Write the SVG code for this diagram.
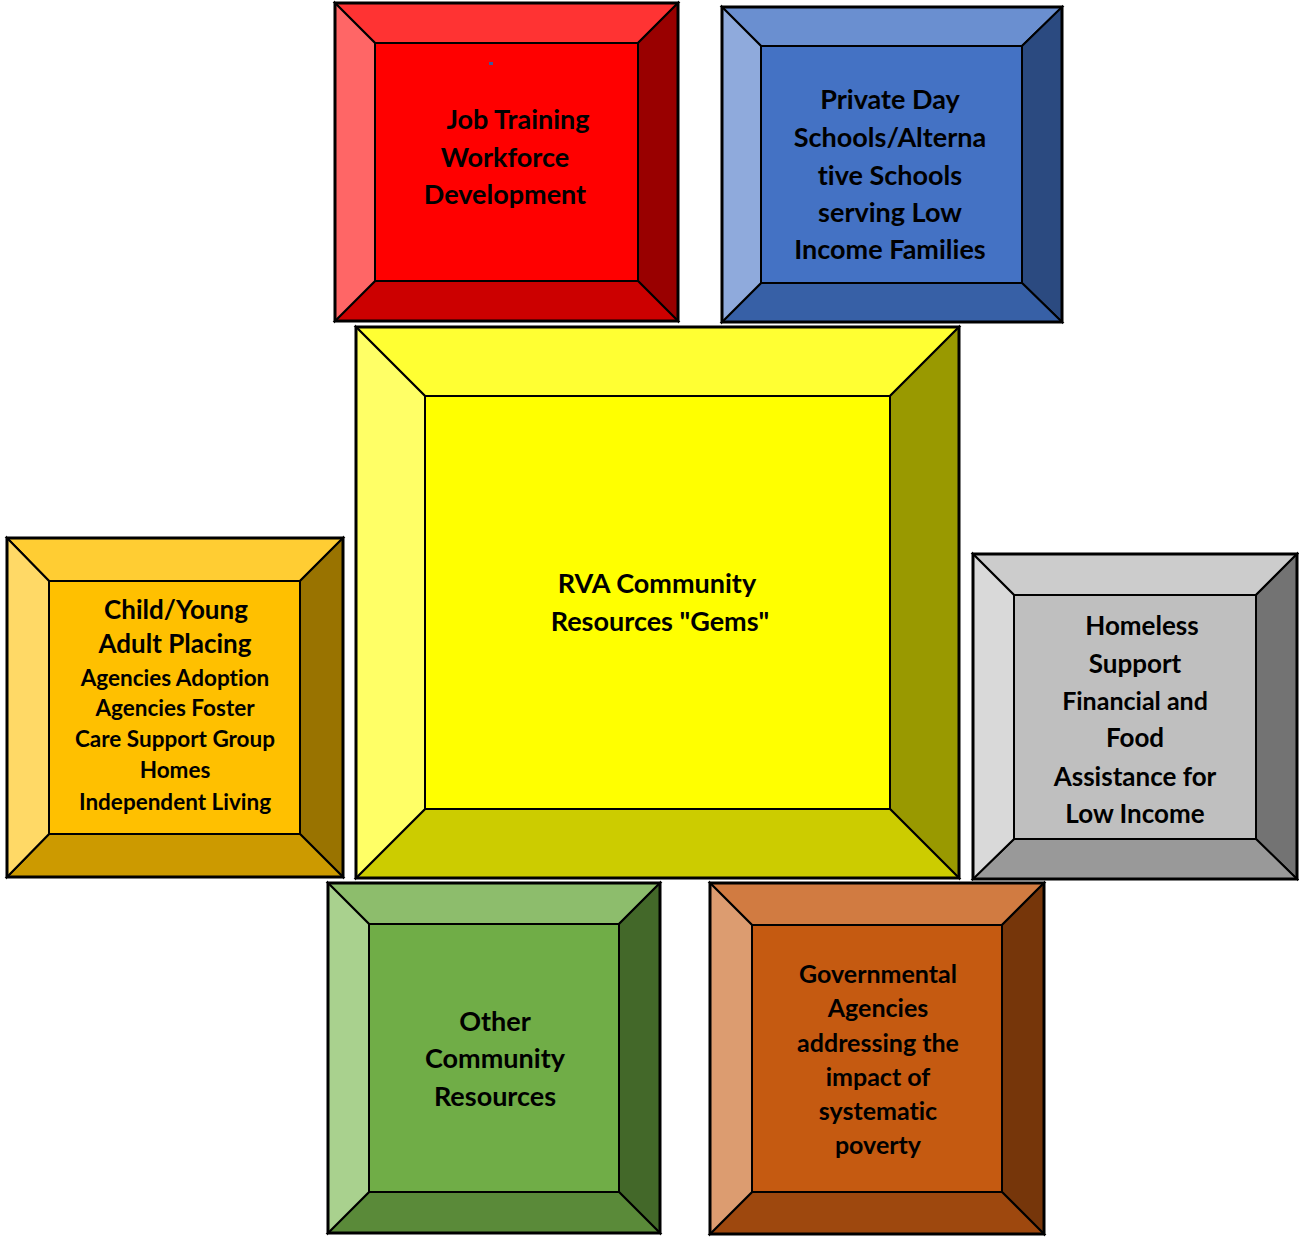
<svg xmlns="http://www.w3.org/2000/svg" width="1299" height="1237" viewBox="0 0 1299 1237">
<style>
.b{stroke:#000;stroke-width:2;stroke-linejoin:miter}
.o{fill:none;stroke:#000;stroke-width:3}
text{font-family:Lato,"Open Sans","Liberation Sans",sans-serif;font-weight:700;fill:#000;text-anchor:middle;font-variant-ligatures:none}
.t25{font-size:27px}.t24{font-size:26px}.t23{font-size:25px}.t21{font-size:22.5px}
</style>
<rect width="1299" height="1237" fill="#fff"/>
<g id="connectors"></g>
<g id="node-job">
<polygon class="b" fill="#FF3333" points="335,3 678,3 638,43 375,43"/>
<polygon class="b" fill="#990000" points="678,3 678,321 638,281 638,43"/>
<polygon class="b" fill="#CC0000" points="335,321 678,321 638,281 375,281"/>
<polygon class="b" fill="#FF6666" points="335,3 335,321 375,281 375,43"/>
<rect class="b" fill="#FF0000" x="375" y="43" width="263" height="238"/>
<rect class="o" x="335" y="3" width="343" height="318"/>
<rect x="489" y="62" width="4" height="3" fill="#3C5A9A"/>
<text class="t25" x="518" y="129">Job Training</text>
<text class="t25" x="505" y="167">Workforce</text>
<text class="t25" x="505" y="204">Development</text>
</g>
<g id="node-schools">
<polygon class="b" fill="#6A8FD0" points="722,7 1062,7 1022,46 761,46"/>
<polygon class="b" fill="#2B4A80" points="1062,7 1062,322 1022,283 1022,46"/>
<polygon class="b" fill="#3760A6" points="722,322 1062,322 1022,283 761,283"/>
<polygon class="b" fill="#8FAADC" points="722,7 722,322 761,283 761,46"/>
<rect class="b" fill="#4472C4" x="761" y="46" width="261" height="237"/>
<rect class="o" x="722" y="7" width="340" height="315"/>
<text class="t25" x="890" y="109">Private Day</text>
<text class="t25" x="890" y="147">Schools/Alterna</text>
<text class="t25" x="890" y="185">tive Schools</text>
<text class="t25" x="890" y="222">serving Low</text>
<text class="t25" x="890" y="259">Income Families</text>
</g>
<g id="node-rva">
<polygon class="b" fill="#FFFF33" points="356,327 959,327 890,396 425,396"/>
<polygon class="b" fill="#999900" points="959,327 959,878 890,809 890,396"/>
<polygon class="b" fill="#CCCC00" points="356,878 959,878 890,809 425,809"/>
<polygon class="b" fill="#FFFF66" points="356,327 356,878 425,809 425,396"/>
<rect class="b" fill="#FFFF00" x="425" y="396" width="465" height="413"/>
<rect class="o" x="356" y="327" width="603" height="551"/>
<text class="t25" x="657" y="593">RVA Community</text>
<text class="t25" x="660" y="631">Resources "Gems"</text>
</g>
<g id="node-child">
<polygon class="b" fill="#FFCD33" points="7,538 343,538 300,581 49,581"/>
<polygon class="b" fill="#997300" points="343,538 343,877 300,834 300,581"/>
<polygon class="b" fill="#CC9A00" points="7,877 343,877 300,834 49,834"/>
<polygon class="b" fill="#FFD966" points="7,538 7,877 49,834 49,581"/>
<rect class="b" fill="#FFC000" x="49" y="581" width="251" height="253"/>
<rect class="o" x="7" y="538" width="336" height="339"/>
<text class="t24" x="176" y="619">Child/Young</text>
<text class="t24" x="175" y="653">Adult Placing</text>
<text class="t21" x="175" y="686">Agencies Adoption</text>
<text class="t21" x="175" y="716">Agencies Foster</text>
<text class="t21" x="175" y="747">Care Support Group</text>
<text class="t21" x="175" y="778">Homes</text>
<text class="t21" x="175" y="810">Independent Living</text>
</g>
<g id="node-homeless">
<polygon class="b" fill="#CCCCCC" points="973,554 1297,554 1256,595 1014,595"/>
<polygon class="b" fill="#737373" points="1297,554 1297,879 1256,839 1256,595"/>
<polygon class="b" fill="#999999" points="973,879 1297,879 1256,839 1014,839"/>
<polygon class="b" fill="#D9D9D9" points="973,554 973,879 1014,839 1014,595"/>
<rect class="b" fill="#BFBFBF" x="1014" y="595" width="242" height="244"/>
<rect class="o" x="973" y="554" width="324" height="325"/>
<text class="t24" x="1142" y="635">Homeless</text>
<text class="t24" x="1135" y="673">Support</text>
<text class="t23" x="1135" y="710">Financial and</text>
<text class="t24" x="1135" y="747">Food</text>
<text class="t24" x="1135" y="786">Assistance for</text>
<text class="t24" x="1135" y="823">Low Income</text>
</g>
<g id="node-other">
<polygon class="b" fill="#8DBD6C" points="328,883 660,883 619,924 369,924"/>
<polygon class="b" fill="#436829" points="660,883 660,1233 619,1192 619,924"/>
<polygon class="b" fill="#5A8A39" points="328,1233 660,1233 619,1192 369,1192"/>
<polygon class="b" fill="#A9D18E" points="328,883 328,1233 369,1192 369,924"/>
<rect class="b" fill="#70AD47" x="369" y="924" width="250" height="268"/>
<rect class="o" x="328" y="883" width="332" height="350"/>
<text class="t25" x="495" y="1031">Other</text>
<text class="t25" x="495" y="1068">Community</text>
<text class="t25" x="495" y="1106">Resources</text>
</g>
<g id="node-gov">
<polygon class="b" fill="#D17B41" points="710,883 1044,883 1002,925 752,925"/>
<polygon class="b" fill="#76360A" points="1044,883 1044,1234 1002,1192 1002,925"/>
<polygon class="b" fill="#9E480E" points="710,1234 1044,1234 1002,1192 752,1192"/>
<polygon class="b" fill="#DC9C70" points="710,883 710,1234 752,1192 752,925"/>
<rect class="b" fill="#C55A11" x="752" y="925" width="250" height="267"/>
<rect class="o" x="710" y="883" width="334" height="351"/>
<text class="t23" x="878" y="983">Governmental</text>
<text class="t23" x="878" y="1017">Agencies</text>
<text class="t23" x="878" y="1052">addressing the</text>
<text class="t23" x="878" y="1086">impact of</text>
<text class="t23" x="878" y="1120">systematic</text>
<text class="t23" x="878" y="1154">poverty</text>
</g>
</svg>
